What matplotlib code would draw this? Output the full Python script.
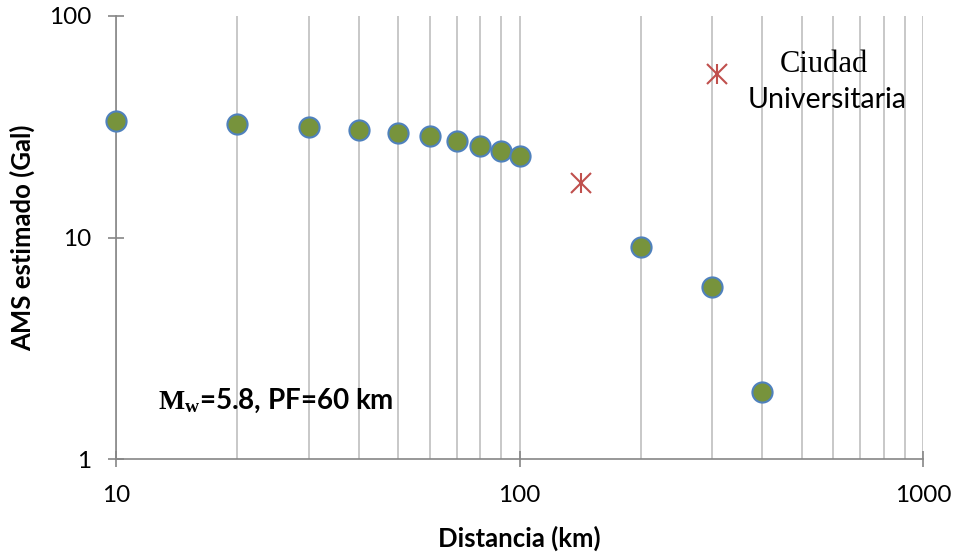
import matplotlib
matplotlib.use('Agg')
import matplotlib.pyplot as plt
from matplotlib.ticker import NullFormatter, FixedLocator

plt.rcParams['font.family'] = ['Lato', 'DejaVu Sans']
plt.rcParams['mathtext.fontset'] = 'custom'
plt.rcParams['mathtext.bf'] = 'Liberation Serif:bold'
plt.rcParams['mathtext.rm'] = 'Liberation Serif'

# estimated AMS vs distance
distancia = [10, 20, 30, 40, 50, 60, 70, 80, 90, 100, 200, 300, 400]
ams = [33.6, 32.5, 31.5, 30.6, 29.6, 28.7, 27.3, 25.9, 24.6, 23.3, 9.06, 5.98, 2.0]

# observed values (stars)
dist_obs = [142, 309]
ams_obs = [17.6, 54.7]

fig = plt.figure(figsize=(9.56, 5.54), dpi=100)
ax = fig.add_axes([116 / 956, 95 / 554, 807 / 956, 443 / 554])

ax.set_xscale('log')
ax.set_yscale('log')
ax.set_xlim(10, 1000)
ax.set_ylim(1, 100)

grid_x = [10, 20, 30, 40, 50, 60, 70, 80, 90, 100, 200, 300, 400, 500,
          600, 700, 800, 900, 1000]
for gx in grid_x:
    ax.axvline(gx, color='#BFBFBF', lw=1.2, zorder=1)

ax.plot(distancia, ams, 'o', ms=14.5, mfc='#77933C', mec='#4F81BD', mew=1.5,
        zorder=3, clip_on=False)
ax.plot(dist_obs, ams_obs, 'x', ms=15, mec='#C0504D', mew=1.5, zorder=3)
ax.plot(dist_obs, ams_obs, '|', ms=15, mec='#C0504D', mew=1.5, zorder=3)

for s in ['top', 'right']:
    ax.spines[s].set_visible(False)
for s in ['left', 'bottom']:
    ax.spines[s].set_color('#868686')
    ax.spines[s].set_linewidth(1.2)
    ax.spines[s].set_zorder(2)

ax.xaxis.set_major_locator(FixedLocator([10, 100, 1000]))
ax.yaxis.set_major_locator(FixedLocator([1, 10, 100]))
ax.xaxis.set_minor_locator(FixedLocator([]))
ax.yaxis.set_minor_locator(FixedLocator([]))
ax.xaxis.set_minor_formatter(NullFormatter())
ax.yaxis.set_minor_formatter(NullFormatter())
ax.set_xticklabels(['10', '100', '1000'])
ax.set_yticklabels(['1', '10', '100'])
ax.tick_params(axis='both', direction='inout', length=12, width=1.2,
               color='#868686', labelsize=17.5, labelcolor='black')
ax.tick_params(axis='y', pad=12)
ax.tick_params(axis='x', pad=13)

ax.set_xlabel('Distancia (km)', fontsize=18.5, fontweight='bold', labelpad=14)
ax.set_ylabel('AMS estimado (Gal)', fontsize=18.5, fontweight='bold', labelpad=10)

fig.text(824 / 956, 1 - 72 / 554, 'Ciudad', fontsize=22, family='Liberation Serif',
         ha='center', va='baseline')
fig.text(827 / 956, 1 - 108 / 554, 'Universitaria', fontsize=20.5,
         ha='center', va='baseline')
fig.text(158 / 956, 1 - 409 / 554, r'$\mathbf{M_w}$=5.8, PF=60 km', fontsize=20,
         fontweight='bold', ha='left', va='baseline')

fig.savefig('out.png', dpi=100)
